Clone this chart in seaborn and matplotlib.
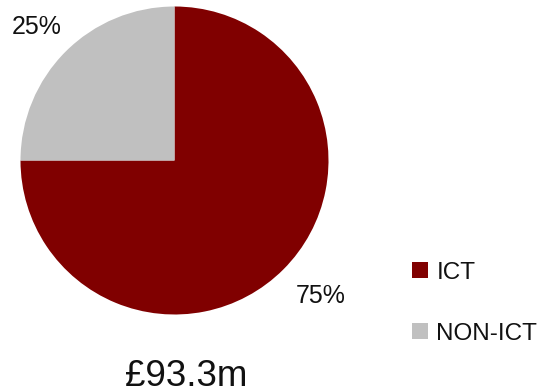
import matplotlib
matplotlib.use("Agg")
import matplotlib.pyplot as plt
from matplotlib.patches import Patch
import seaborn as sns

categories = ["ICT", "NON-ICT"]
shares = [75, 25]
colors = ["#800000", "#C0C0C0"]
total_label = "£93.3m"

sns.set_theme(style="white")
plt.rcParams["font.family"] = ["Liberation Sans", "DejaVu Sans"]

W, H = 542, 392
fig = plt.figure(figsize=(W / 100, H / 100), dpi=100)

# pie axes placed in pixel units: centre (174.5, 160.5), radius 154
r = 154
cx, cy = 174.5, 160.5
ax = fig.add_axes([(cx - r) / W, (H - cy - r) / H, 2 * r / W, 2 * r / H])

wedges, _, autotexts = ax.pie(
    shares, colors=colors, startangle=90, counterclock=False, radius=1,
    autopct=lambda p: f"{p:.0f}%",
    wedgeprops=dict(linewidth=0), textprops=dict(fontsize=18, color="#111111"),
    frame=False,
)
ax.set_xlim(-1, 1)
ax.set_ylim(-1, 1)
ax.set_aspect("auto")
ax.axis("off")

# percentage labels sit outside the pie
label_pos = [(0.948, -0.880), (-0.896, 0.864)]
for t, (x, y) in zip(autotexts, label_pos):
    t.set_position((x, y))
    t.set_ha("center")
    t.set_va("center")

handles = [Patch(facecolor=c, edgecolor="none", label=l) for c, l in zip(colors, categories)]
fig.legend(handles=handles, loc="upper left", bbox_to_anchor=(390 / W, 1 - 240 / H),
           frameon=False, fontsize=17.5, labelspacing=1.6, handlelength=0.66,
           handleheight=0.62, handletextpad=0.35, labelcolor="#111111")

fig.text(186 / W, 1 - 376 / H, total_label, ha="center", va="center", fontsize=26.5, color="#111111")

fig.savefig("out.png", dpi=100)
